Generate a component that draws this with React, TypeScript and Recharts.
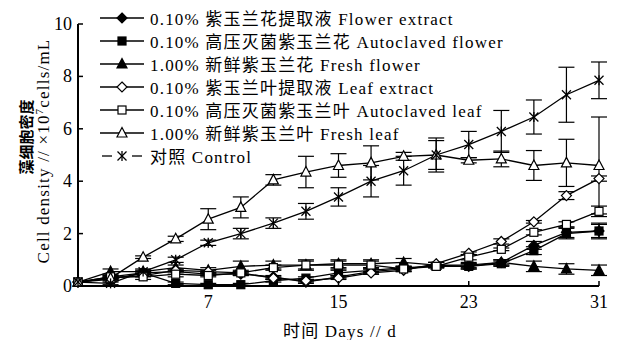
import React from "react";
import { LineChart, Line, XAxis, YAxis, ErrorBar, Legend } from "recharts";

// sampling days and axis ticks
const days = [-1, 1, 3, 5, 7, 9, 11, 13, 15, 17, 19, 21, 23, 25, 27, 29, 31];
const xTicks = [7, 15, 23, 31];
const yTicks = [0, 2, 4, 6, 8, 10];

// cell density, x10^7 cells/mL
const flowerExtract = [0.15, 0.35, 0.5, 0.55, 0.45, 0.45, 0.35, 0.15, 0.35, 0.55, 0.65, 0.8, 0.75, 0.9, 1.55, 2.05, 2.1];
const flowerExtractErr = [0, 0.05, 0.05, 0.1, 0.05, 0.05, 0.05, 0.05, 0.05, 0.1, 0.05, 0.1, 0.1, 0.1, 0.15, 0.2, 0.25];
const autoclavedFlower = [0.15, 0.25, 0.5, 0.1, 0.05, 0.05, 0.2, 0.3, 0.5, 0.6, 0.7, 0.75, 0.75, 0.85, 1.35, 2.0, 2.1];
const autoclavedFlowerErr = [0, 0.05, 0.05, 0.05, 0.05, 0.05, 0.05, 0.05, 0.1, 0.1, 0.05, 0.05, 0.1, 0.1, 0.15, 0.2, 0.3];
const freshFlower = [0.15, 0.55, 0.55, 0.7, 0.6, 0.75, 0.8, 0.8, 0.85, 0.85, 0.9, 0.8, 0.8, 0.9, 0.75, 0.65, 0.6];
const freshFlowerErr = [0, 0.1, 0.1, 0.1, 0.1, 0.2, 0.15, 0.2, 0.15, 0.15, 0.15, 0.1, 0.1, 0.1, 0.2, 0.2, 0.2];
const leafExtract = [0.15, 0.3, 0.4, 0.6, 0.55, 0.5, 0.3, 0.2, 0.3, 0.5, 0.6, 0.85, 1.25, 1.7, 2.45, 3.45, 4.1];
const leafExtractErr = [0, 0.05, 0.05, 0.05, 0.05, 0.05, 0.05, 0.05, 0.05, 0.05, 0.05, 0.05, 0.05, 0.1, 0.05, 0.15, 0.1];
const autoclavedLeaf = [0.15, 0.35, 0.35, 0.45, 0.4, 0.5, 0.7, 0.8, 0.8, 0.8, 0.65, 0.75, 1.1, 1.4, 2.05, 2.35, 2.85];
const autoclavedLeafErr = [0, 0.05, 0.1, 0.1, 0.05, 0.1, 0.1, 0.15, 0.15, 0.15, 0.1, 0.05, 0.1, 0.05, 0.1, 0.1, 0.2];
const freshLeaf = [0.15, 0.3, 1.1, 1.8, 2.55, 3.0, 4.05, 4.35, 4.6, 4.7, 4.95, 5.0, 4.8, 4.85, 4.6, 4.7, 4.6];
const freshLeafErr = [0, 0.05, 0.05, 0.1, 0.4, 0.4, 0.2, 0.6, 0.45, 0.65, 0.15, 0.65, 0.1, 0.3, 0.57, 0.9, 1.85];
const control = [0.15, 0.1, 0.55, 1.0, 1.65, 2.0, 2.4, 2.85, 3.4, 4.0, 4.4, 5.0, 5.4, 5.9, 6.45, 7.3, 7.85];
const controlErr = [0, 0.05, 0.05, 0.1, 0.1, 0.2, 0.2, 0.3, 0.35, 0.6, 0.55, 0.55, 0.5, 0.8, 0.65, 1.05, 0.7];

const series = [
  { key: "fe", name: "0.10% 紫玉兰花提取液 Flower extract", values: flowerExtract, errs: flowerExtractErr, shape: "diamond", filled: true },
  { key: "af", name: "0.10% 高压灭菌紫玉兰花 Autoclaved flower", values: autoclavedFlower, errs: autoclavedFlowerErr, shape: "square", filled: true },
  { key: "ff", name: "1.00% 新鲜紫玉兰花 Fresh flower", values: freshFlower, errs: freshFlowerErr, shape: "triangle", filled: true },
  { key: "le", name: "0.10% 紫玉兰叶提取液 Leaf extract", values: leafExtract, errs: leafExtractErr, shape: "diamond", filled: false },
  { key: "al", name: "0.10% 高压灭菌紫玉兰叶 Autoclaved leaf", values: autoclavedLeaf, errs: autoclavedLeafErr, shape: "square", filled: false },
  { key: "fl", name: "1.00% 新鲜紫玉兰叶 Fresh leaf", values: freshLeaf, errs: freshLeafErr, shape: "triangle", filled: false },
  { key: "ct", name: "对照 Control", values: control, errs: controlErr, shape: "star", filled: false },
];

const data = days.map((day, i) => {
  const row: any = { day };
  series.forEach((s) => {
    row[s.key] = s.values[i];
    row[s.key + "Err"] = s.errs[i];
  });
  return row;
});

const FONT = "'Liberation Serif', 'Noto Sans CJK SC', serif";

function marker(shape: string, filled: boolean, cx: number, cy: number) {
  const fill = filled ? "#000" : "#fff";
  const common = { fill, stroke: "#000", strokeWidth: 1.2 };
  if (shape === "diamond") {
    return <polygon {...common} points={`${cx},${cy - 5} ${cx + 5},${cy} ${cx},${cy + 5} ${cx - 5},${cy}`} />;
  }
  if (shape === "square") {
    return <rect {...common} x={cx - 4} y={cy - 4} width={8} height={8} />;
  }
  if (shape === "triangle") {
    return <polygon {...common} points={`${cx},${cy - 5.5} ${cx + 5},${cy + 4} ${cx - 5},${cy + 4}`} />;
  }
  return (
    <g stroke="#000" strokeWidth={1.3}>
      <line x1={cx - 4.5} y1={cy - 4.5} x2={cx + 4.5} y2={cy + 4.5} />
      <line x1={cx - 4.5} y1={cy + 4.5} x2={cx + 4.5} y2={cy - 4.5} />
      <line x1={cx} y1={cy - 5} x2={cx} y2={cy + 5} />
    </g>
  );
}

const makeDot = (shape: string, filled: boolean) => (props: any) => {
  const { cx, cy, index } = props;
  return <g key={`${shape}-${filled}-${index}`}>{marker(shape, filled, cx, cy)}</g>;
};

const YTick = (props: any) => {
  const { x, y, payload } = props;
  const axisX = x + 6;
  return (
    <g>
      <line x1={axisX} y1={y} x2={axisX + 5} y2={y} stroke="#000" strokeWidth={1.5} />
      <text x={x} y={y + 6} textAnchor="end" fontFamily={FONT} fontSize={18} fill="#000">
        {payload.value}
      </text>
    </g>
  );
};

const XTick = (props: any) => {
  const { x, y, payload } = props;
  const axisY = y - 6;
  return (
    <g>
      <line x1={x} y1={axisY} x2={x} y2={axisY - 5} stroke="#000" strokeWidth={1.5} />
      <text x={x} y={axisY + 22} textAnchor="middle" fontFamily={FONT} fontSize={18} fill="#000">
        {payload.value}
      </text>
    </g>
  );
};

const LegendBox = () => (
  <div style={{ fontFamily: FONT, fontSize: 17, letterSpacing: 1.2, color: "#000" }}>
    {series.map((s) => (
      <div key={s.key} style={{ display: "flex", alignItems: "center", height: 23, whiteSpace: "nowrap" }}>
        <svg width={50} height={20} style={{ flex: "none" }}>
          {s.shape === "star" ? (
            <g stroke="#000" strokeWidth={1.3}>
              <line x1={2} y1={10} x2={12} y2={10} />
              <line x1={32} y1={10} x2={42} y2={10} />
            </g>
          ) : (
            <line x1={0} y1={10} x2={44} y2={10} stroke="#000" strokeWidth={1.3} />
          )}
          {marker(s.shape, s.filled, 22, 10)}
        </svg>
        <span>{s.name}</span>
      </div>
    ))}
  </div>
);

export default function App() {
  return (
    <div style={{ position: "absolute", left: 0, top: 0, width: 622, height: 340, background: "#fff" }}>
      <LineChart width={622} height={340} data={data} margin={{ top: 24, right: 23, left: 0, bottom: 0 }}>
        <XAxis
          dataKey="day"
          type="number"
          domain={[-1, 31]}
          ticks={xTicks}
          height={54}
          tickSize={0}
          tickMargin={6}
          tickLine={false}
          tick={<XTick />}
          axisLine={{ stroke: "#000", strokeWidth: 2 }}
          label={{
            content: () => (
              <text x={340} y={337} textAnchor="middle" fontFamily={FONT} fontSize={17} letterSpacing={1.2} fill="#000">
                时间 Days // d
              </text>
            ),
          }}
        />
        <YAxis
          type="number"
          domain={[0, 10]}
          ticks={yTicks}
          width={78}
          tickSize={0}
          tickMargin={6}
          tickLine={false}
          tick={<YTick />}
          axisLine={{ stroke: "#000", strokeWidth: 2 }}
          label={{
            content: () => (
              <g>
                <text
                  x={0}
                  y={0}
                  transform="translate(32 137) rotate(-90)"
                  textAnchor="middle"
                  fontFamily={FONT}
                  fontSize={15}
                  fontWeight="bold"
                  fill="#000"
                >
                  藻细胞密度
                </text>
                <text
                  x={0}
                  y={0}
                  transform="translate(49 151) rotate(-90)"
                  textAnchor="middle"
                  fontFamily={FONT}
                  fontSize={17}
                  letterSpacing={1.2}
                  fill="#000"
                >
                  Cell density // ×10
                  <tspan baselineShift="super" fontSize={11}>7</tspan>
                  cells/mL
                </text>
              </g>
            ),
          }}
        />
        <Legend
          layout="vertical"
          align="center"
          verticalAlign="middle"
          wrapperStyle={{ left: 100, top: 6, width: 460 }}
          content={() => <LegendBox />}
        />
        {series.map((s) => (
          <Line
            key={s.key}
            dataKey={s.key}
            name={s.name}
            type="linear"
            stroke="#000"
            strokeWidth={1.3}
            dot={makeDot(s.shape, s.filled)}
            activeDot={false}
            isAnimationActive={false}
          >
            <ErrorBar dataKey={s.key + "Err"} direction="y" width={8} stroke="#000" strokeWidth={1.2} />
          </Line>
        ))}
      </LineChart>
    </div>
  );
}
